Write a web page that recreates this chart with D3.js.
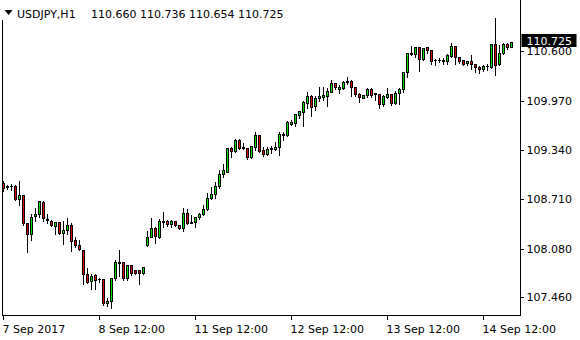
<!DOCTYPE html>
<html>
<head>
<meta charset="utf-8">
<script src="https://cdn.jsdelivr.net/npm/d3@7"></script>
<style>
  body { margin: 0; background: #fff; }
  text { font-family: "DejaVu Sans", sans-serif; font-size: 11px; }
</style>
</head>
<body>
<div id="chart"></div>
<script>
// USDJPY H1 bars (oldest first)
const open = [
  108.927,108.872,108.883,108.888,108.715,108.770,108.408,108.268,108.497,108.523,
  108.684,108.456,108.437,108.377,108.424,108.281,108.319,108.382,108.195,108.131,
  108.067,107.757,107.667,107.748,107.693,107.693,107.394,107.416,107.706,107.906,
  107.918,107.706,107.872,107.812,107.812,107.770,108.127,108.229,108.352,108.237,
  108.428,108.437,108.395,108.437,108.386,108.344,108.540,108.428,108.420,108.484,
  108.523,108.591,108.728,108.783,108.885,109.035,109.067,109.374,109.335,109.472,
  109.383,109.366,109.259,109.387,109.536,109.340,109.289,109.362,109.357,109.379,
  109.532,109.532,109.680,109.685,109.791,109.834,109.948,110.034,109.906,110.004,
  110.017,110.034,110.089,110.196,110.119,110.132,110.213,110.225,110.145,110.055,
  110.012,110.042,110.119,110.077,110.064,109.928,110.025,110.055,109.940,110.068,
  110.119,110.337,110.567,110.567,110.656,110.503,110.656,110.621,110.498,110.494,
  110.485,110.485,110.549,110.673,110.528,110.494,110.451,110.481,110.439,110.408,
  110.383,110.413,110.408,110.698,110.439,110.579,110.698,110.660
];
const high = [
  108.961,108.910,108.919,108.910,108.961,108.770,108.428,108.536,108.613,108.697,
  108.706,108.543,108.459,108.437,108.437,108.450,108.484,108.428,108.250,108.204,
  108.080,107.854,107.769,107.769,107.727,107.706,107.471,107.727,107.948,108.076,
  107.918,107.885,107.876,107.825,107.812,107.854,108.323,108.484,108.373,108.479,
  108.565,108.463,108.463,108.446,108.395,108.617,108.608,108.527,108.505,108.556,
  108.655,108.804,108.888,108.949,109.102,109.183,109.387,109.400,109.502,109.502,
  109.451,109.374,109.408,109.587,109.536,109.395,109.400,109.408,109.459,109.587,
  109.587,109.731,109.736,109.813,109.855,109.983,110.098,110.055,110.047,110.166,
  110.166,110.149,110.251,110.196,110.183,110.238,110.293,110.251,110.153,110.081,
  110.051,110.145,110.145,110.089,110.077,110.055,110.145,110.068,110.111,110.145,
  110.357,110.600,110.685,110.673,110.673,110.664,110.664,110.630,110.515,110.528,
  110.536,110.587,110.728,110.680,110.536,110.503,110.494,110.571,110.451,110.430,
  110.443,110.451,110.715,111.039,110.698,110.728,110.720,110.736
];
const low = [
  108.825,108.842,108.834,108.706,108.642,108.386,108.038,108.195,108.441,108.492,
  108.441,108.408,108.377,108.268,108.268,108.144,108.272,108.050,108.106,108.067,
  107.633,107.642,107.565,107.565,107.662,107.365,107.352,107.322,107.684,107.735,
  107.684,107.684,107.748,107.761,107.633,107.761,108.120,108.229,108.161,108.216,
  108.365,108.377,108.365,108.377,108.331,108.314,108.399,108.408,108.365,108.463,
  108.514,108.578,108.715,108.736,108.863,109.004,109.067,109.259,109.315,109.353,
  109.353,109.229,109.246,109.344,109.315,109.268,109.280,109.302,109.344,109.280,
  109.472,109.527,109.664,109.655,109.757,109.655,109.877,109.783,109.855,109.974,
  109.983,109.910,110.081,110.119,110.068,110.124,110.183,110.038,110.038,109.954,
  110.004,110.025,110.025,109.983,109.877,109.910,110.012,109.919,109.928,109.932,
  110.089,110.280,110.558,110.536,110.357,110.494,110.579,110.443,110.430,110.464,
  110.443,110.443,110.536,110.443,110.451,110.430,110.430,110.375,110.345,110.332,
  110.357,110.366,110.387,110.302,110.430,110.567,110.630,110.654
];
const close = [
  108.854,108.888,108.887,108.715,108.770,108.408,108.268,108.492,108.527,108.697,
  108.472,108.463,108.386,108.424,108.281,108.319,108.382,108.186,108.127,108.076,
  107.757,107.662,107.739,107.688,107.697,107.387,107.416,107.706,107.910,107.910,
  107.706,107.872,107.770,107.774,107.774,107.846,108.229,108.344,108.242,108.437,
  108.437,108.395,108.437,108.382,108.344,108.540,108.416,108.408,108.488,108.531,
  108.591,108.728,108.783,108.885,109.035,109.089,109.366,109.335,109.472,109.366,
  109.375,109.259,109.400,109.532,109.335,109.289,109.353,109.370,109.383,109.545,
  109.549,109.698,109.698,109.800,109.842,109.954,110.034,109.897,110.004,110.034,
  110.047,110.098,110.196,110.153,110.153,110.209,110.230,110.145,110.055,110.017,
  110.042,110.119,110.047,110.055,109.928,110.034,110.055,109.940,110.068,110.119,
  110.344,110.580,110.587,110.656,110.503,110.643,110.621,110.481,110.490,110.498,
  110.490,110.558,110.673,110.528,110.481,110.443,110.481,110.439,110.400,110.383,
  110.417,110.421,110.698,110.430,110.587,110.698,110.656,110.725
];

// axis ticks
const yTicks = [110.600, 109.970, 109.340, 108.710, 108.080, 107.460];
const xTickBars = [0, 24, 48, 72, 96, 120];
const xTickLabels = ["7 Sep 2017", "8 Sep 12:00", "11 Sep 12:00", "12 Sep 12:00", "13 Sep 12:00", "14 Sep 12:00"];

const symbol = "USDJPY,H1";
const lastBar = open.length - 1;

const width = 580, height = 340;
const plotRight = 520.5, plotBottom = 315.5;

const svg = d3.select("#chart").append("svg")
    .attr("width", width)
    .attr("height", height);

// scales: bar index -> x, price -> y
const x = d3.scaleLinear()
    .domain([0, lastBar])
    .range([3.5, 3.5 + 4 * lastBar]);

const y = d3.scaleLinear()
    .domain([107.2309, 111.2603])
    .range([plotBottom, 0]);

const px = v => Math.round(v) + 0.5;

// candles
const bars = d3.range(open.length).map(i => ({
    i, o: open[i], h: high[i], l: low[i], c: close[i]
}));

const g = svg.append("g").attr("shape-rendering", "crispEdges");

bars.forEach(d => {
    const cx = x(d.i);
    g.append("line")
        .attr("x1", cx).attr("x2", cx)
        .attr("y1", px(y(d.h))).attr("y2", px(y(d.l)))
        .attr("stroke", "#000");

    const top = px(y(Math.max(d.o, d.c)));
    const bot = px(y(Math.min(d.o, d.c)));
    if (bot - top < 1) {
        g.append("line")
            .attr("x1", cx - 1.5).attr("x2", cx + 1.5)
            .attr("y1", top).attr("y2", top)
            .attr("stroke", "#000");
    } else {
        g.append("rect")
            .attr("x", cx - 1)
            .attr("y", top)
            .attr("width", 2)
            .attr("height", bot - top)
            .attr("fill", d.c >= d.o ? "#00e000" : "#e00000")
            .attr("stroke", "#000");
    }
});

// frame
const frame = svg.append("g").attr("stroke", "#000").attr("shape-rendering", "crispEdges");
frame.append("line").attr("x1", 2.5).attr("x2", 2.5).attr("y1", 20).attr("y2", plotBottom);
frame.append("line").attr("x1", plotRight).attr("x2", plotRight).attr("y1", 0).attr("y2", plotBottom);
frame.append("line").attr("x1", 2.5).attr("x2", plotRight).attr("y1", plotBottom).attr("y2", plotBottom);

// price axis on the right
const yAxis = svg.append("g")
    .attr("transform", `translate(${plotRight},0)`)
    .call(d3.axisRight(y).tickValues(yTicks).tickFormat(d3.format(".3f")).tickSize(3).tickPadding(3).offset(0));
yAxis.select(".domain").remove();
yAxis.selectAll("line").attr("shape-rendering", "crispEdges");
yAxis.selectAll("text")
    .attr("font-family", "DejaVu Sans, sans-serif")
    .attr("font-size", 11)
    .attr("fill", "#000");

// time axis
const xAxis = svg.append("g")
    .attr("transform", `translate(0,${plotBottom})`)
    .call(d3.axisBottom(x).tickValues(xTickBars).tickFormat((d, i) => xTickLabels[i]).tickSize(4).tickPadding(6).offset(0));
xAxis.select(".domain").remove();
xAxis.selectAll("line").attr("shape-rendering", "crispEdges");
xAxis.selectAll("text")
    .attr("text-anchor", "start")
    .attr("dx", -1)
    .attr("font-family", "DejaVu Sans, sans-serif")
    .attr("font-size", 11)
    .attr("fill", "#000");

// current price marker (sits just above the 110.600 label, as in MT4)
const lastY = y(close[lastBar]);
svg.append("rect")
    .attr("x", plotRight + 1)
    .attr("y", Math.round(lastY) - 8)
    .attr("width", 55)
    .attr("height", 13)
    .attr("fill", "#000");
svg.append("text")
    .attr("x", plotRight + 6)
    .attr("y", lastY + 3)
    .attr("fill", "#fff")
    .text(d3.format(".3f")(close[lastBar]));

// title: symbol + OHLC of the last bar
svg.append("path")
    .attr("d", "M4.5,10 L12.5,10 L8.5,15 Z")
    .attr("fill", "#000");
svg.append("text")
    .attr("x", 17)
    .attr("y", 17.5)
    .attr("font-size", "12px")
    .attr("fill", "#000")
    .text(symbol);
svg.append("text")
    .attr("x", 91)
    .attr("y", 17.5)
    .attr("fill", "#000")
    .text([open[lastBar], high[lastBar], low[lastBar], close[lastBar]].map(d3.format(".3f")).join(" "));
</script>
</body>
</html>
